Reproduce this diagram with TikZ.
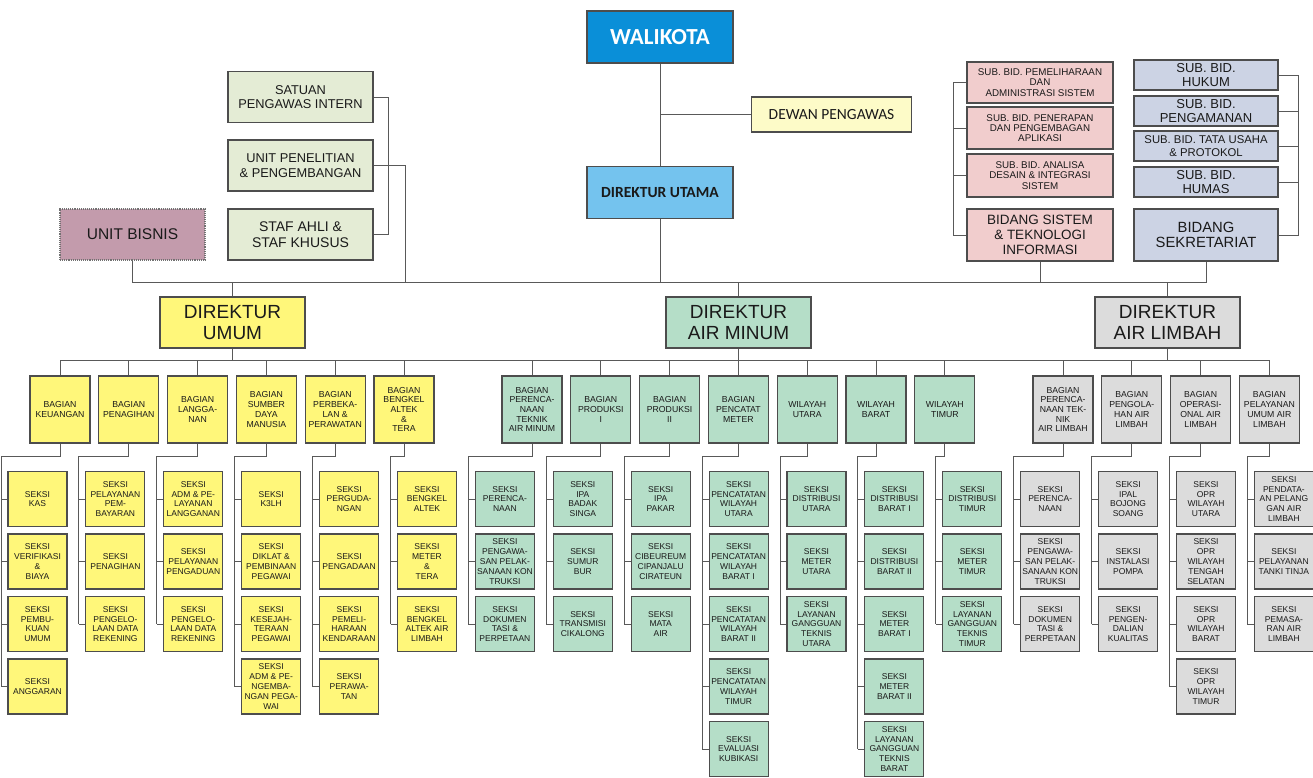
\documentclass[tikz,border=0pt]{standalone}
\usepackage{fontspec}
\setmainfont{Liberation Sans}
\newfontfamily\calib{Carlito}
\definecolor{linec}{HTML}{595959}
\definecolor{bordc}{HTML}{4D4D4D}
\definecolor{txtc}{HTML}{1A1A1A}
\definecolor{wblue}{HTML}{0A8FD8}
\definecolor{dblue}{HTML}{74C3EE}
\definecolor{dewanc}{HTML}{FDFBC8}
\definecolor{staffc}{HTML}{E4ECD5}
\definecolor{ubisc}{HTML}{C39BAC}
\definecolor{yelc}{HTML}{FFF77A}
\definecolor{mintc}{HTML}{B5DEC8}
\definecolor{grayc}{HTML}{DCDCDC}
\definecolor{pinkc}{HTML}{F1CDCD}
\definecolor{lavc}{HTML}{CCD3E4}
\tikzset{
  conn/.style={draw=linec, line width=1pt},
  box/.style={draw=bordc, line width=1.1pt, inner sep=0pt, align=center, text=txtc},
  dirbox/.style={box, minimum width=145pt, minimum height=51pt, font=\fontsize{19pt}{21pt}\selectfont},
  staffbox/.style={box, fill=staffc, minimum width=145pt, minimum height=51pt, font=\fontsize{12.8pt}{14.5pt}\selectfont},
  bagbox/.style={box, minimum width=60pt, minimum height=67pt, font=\fontsize{8.7pt}{9.7pt}\selectfont},
  bagU/.style={bagbox, fill=yelc},
  bagM/.style={bagbox, fill=mintc},
  bagL/.style={bagbox, fill=grayc},
  skbox/.style={box, minimum width=59pt, minimum height=55pt, font=\fontsize{8.5pt}{9.8pt}\selectfont},
  skU/.style={skbox, fill=yelc},
  skM/.style={skbox, fill=mintc},
  skL/.style={skbox, fill=grayc},
  redbox/.style={box, fill=pinkc, minimum width=146pt, font=\fontsize{9.8pt}{10.2pt}\selectfont},
  bluebox/.style={box, fill=lavc, minimum width=144pt, minimum height=30pt, font=\fontsize{13pt}{13.5pt}\selectfont},
}
\newcommand{\sk}[4]{\node[#1] (s#2r#3) at ({77.9*#2+37.5},{499+62.5*(#3-1)}) {#4};}
\newcommand{\brk}[2]{%
  \coordinate (c#1) at ({77.9*#1+1},456);
  \draw[conn] (g#1.south) |- (c#1) -- (c#1 |- s#1r#2.west);
  \foreach \i in {1,...,#2} {\draw[conn] (c#1 |- s#1r\i.west) -- (s#1r\i.west);}
}
\begin{document}
\begin{tikzpicture}[x=1pt,y=-1pt]
\useasboundingbox (0,0) rectangle (1313,777);
\fill[white] (0,0) rectangle (1313,777);

% ---------- top ----------
\node[box, fill=wblue, text=white, minimum width=146pt, minimum height=52pt, font=\calib\bfseries\fontsize{23pt}{25pt}\selectfont] (wali) at (660,37) {WALIKOTA};
\node[box, fill=dewanc, minimum width=160pt, minimum height=35pt, font=\calib\fontsize{15.5pt}{17pt}\selectfont] (dewan) at (831.5,114.5) {DEWAN PENGAWAS};
\node[box, fill=dblue, minimum width=146pt, minimum height=52pt, font=\calib\bfseries\fontsize{15.5pt}{17pt}\selectfont] (dirut) at (660,192.5) {DIREKTUR UTAMA};

\node[staffbox] (spi) at (300.5,97) {SATUAN\\PENGAWAS INTERN};
\node[staffbox] (upp) at (300.5,165.5) {UNIT PENELITIAN\\\& PENGEMBANGAN};
\node[staffbox, font=\fontsize{14pt}{15.5pt}\selectfont] (staf) at (300.5,234.5) {STAF AHLI \&\\STAF KHUSUS};
\node[box, fill=ubisc, draw=bordc!80, densely dotted, minimum width=145pt, minimum height=51pt, font=\fontsize{15.5pt}{17pt}\selectfont] (ubis) at (132.5,234.5) {UNIT BISNIS};

\node[redbox, minimum height=41pt] (r1) at (1040,82.5) {SUB. BID. PEMELIHARAAN\\DAN\\ADMINISTRASI SISTEM};
\node[redbox, minimum height=42pt] (r2) at (1040,128) {SUB. BID. PENERAPAN\\DAN PENGEMBAGAN\\APLIKASI};
\node[redbox, minimum height=43pt] (r3) at (1040,175.5) {SUB. BID. ANALISA\\DESAIN \& INTEGRASI\\SISTEM};
\node[redbox, minimum height=52pt, font=\fontsize{13.5pt}{15pt}\selectfont] (bsti) at (1040,235) {BIDANG SISTEM\\\& TEKNOLOGI\\INFORMASI};

\node[bluebox] (u1) at (1206,75) {SUB. BID.\\HUKUM};
\node[bluebox] (u2) at (1206,111) {SUB. BID.\\PENGAMANAN};
\node[bluebox, font=\fontsize{11.3pt}{13pt}\selectfont] (u3) at (1206,146) {SUB. BID. TATA USAHA\\\& PROTOKOL};
\node[bluebox] (u4) at (1206,182) {SUB. BID.\\HUMAS};
\node[bluebox, minimum height=52pt, font=\fontsize{14.8pt}{15.5pt}\selectfont] (sekr) at (1206,235) {BIDANG\\SEKRETARIAT};

\node[dirbox, fill=yelc] (dU) at (232.5,322.5) {DIREKTUR\\UMUM};
\node[dirbox, fill=mintc] (dM) at (738.5,322.5) {DIREKTUR\\AIR MINUM};
\node[dirbox, fill=grayc] (dL) at (1167.5,322.5) {DIREKTUR\\AIR LIMBAH};

% top connectors
\coordinate (busT) at (0,282);
\coordinate (jS) at (388,0);
\coordinate (jU) at (405,282);
\coordinate (jR) at (953,0);
\coordinate (jB) at (1298,0);
\draw[conn] (wali.south) -- (dirut.north);
\draw[conn] (dewan.west) -- (dewan.west -| wali.south);
\draw[conn] (dirut.south) -- (dirut.south |- busT);
\draw[conn] (ubis.south) -- (ubis.south |- busT) -- (sekr.south |- busT) -- (sekr.south);
\draw[conn] (bsti.south) -- (bsti.south |- busT);
\draw[conn] (dU.north) -- (dU.north |- busT);
\draw[conn] (dM.north) -- (dM.north |- busT);
\draw[conn] (dL.north) -- (dL.north |- busT);
\draw[conn] (upp.east) -| (jU);
\draw[conn] (spi.east) -- (spi.east -| jS) -- (staf.east -| jS) -- (staf.east);
\draw[conn] (r1.west) -- (r1.west -| jR) -- (bsti.west -| jR) -- (bsti.west);
\draw[conn] (r2.west) -- (r2.west -| jR);
\draw[conn] (r3.west) -- (r3.west -| jR);
\draw[conn] (u1.east) -- (u1.east -| jB) -- (sekr.east -| jB) -- (sekr.east);
\draw[conn] (u2.east) -- (u2.east -| jB);
\draw[conn] (u3.east) -- (u3.east -| jB);
\draw[conn] (u4.east) -- (u4.east -| jB);

% ---------- bagian ----------
\node[bagU] (g0) at (60,409.5) {BAGIAN\\KEUANGAN};
\node[bagU] (g1) at (128.8,409.5) {BAGIAN\\PENAGIHAN};
\node[bagU] (g2) at (197.6,409.5) {BAGIAN\\LANGGA-\\NAN};
\node[bagU] (g3) at (266.4,409.5) {BAGIAN\\SUMBER\\DAYA\\MANUSIA};
\node[bagU] (g4) at (335.2,409.5) {BAGIAN\\PERBEKA-\\LAN \&\\PERAWATAN};
\node[bagU] (g5) at (404,409.5) {BAGIAN\\BENGKEL\\ALTEK\\\&\\TERA};
\node[bagM] (g6) at (532,409.5) {BAGIAN\\PERENCA-\\NAAN\\TEKNIK\\AIR MINUM};
\node[bagM] (g7) at (600.8,409.5) {BAGIAN\\PRODUKSI\\I};
\node[bagM] (g8) at (669.6,409.5) {BAGIAN\\PRODUKSI\\II};
\node[bagM] (g9) at (738.4,409.5) {BAGIAN\\PENCATAT\\METER};
\node[bagM] (g10) at (807.2,409.5) {WILAYAH\\UTARA};
\node[bagM] (g11) at (876,409.5) {WILAYAH\\BARAT};
\node[bagM] (g12) at (944.8,409.5) {WILAYAH\\TIMUR};
\node[bagL] (g13) at (1063,409.5) {BAGIAN\\PERENCA-\\NAAN TEK-\\NIK\\AIR LIMBAH};
\node[bagL] (g14) at (1131.8,409.5) {BAGIAN\\PENGOLA-\\HAN AIR\\LIMBAH};
\node[bagL] (g15) at (1200.6,409.5) {BAGIAN\\OPERASI-\\ONAL AIR\\LIMBAH};
\node[bagL] (g16) at (1269.4,409.5) {BAGIAN\\PELAYANAN\\UMUM AIR\\LIMBAH};

\coordinate (busB) at (0,360);
\draw[conn] (g0.north |- busB) -- (g16.north |- busB);
\foreach \k in {0,...,16} {\draw[conn] (g\k.north) -- (g\k.north |- busB);}
\draw[conn] (dU.south) -- (dU.south |- busB);
\draw[conn] (dM.south) -- (dM.south |- busB);
\draw[conn] (dL.south) -- (dL.south |- busB);

% ---------- seksi: direktur umum ----------
\sk{skU}{0}{1}{SEKSI\\KAS}
\sk{skU}{0}{2}{SEKSI\\VERIFIKASI\\\&\\BIAYA}
\sk{skU}{0}{3}{SEKSI\\PEMBU-\\KUAN\\UMUM}
\sk{skU}{0}{4}{SEKSI\\ANGGARAN}
\sk{skU}{1}{1}{SEKSI\\PELAYANAN\\PEM-\\BAYARAN}
\sk{skU}{1}{2}{SEKSI\\PENAGIHAN}
\sk{skU}{1}{3}{SEKSI\\PENGELO-\\LAAN DATA\\REKENING}
\sk{skU}{2}{1}{SEKSI\\ADM \& PE-\\LAYANAN\\LANGGANAN}
\sk{skU}{2}{2}{SEKSI\\PELAYANAN\\PENGADUAN}
\sk{skU}{2}{3}{SEKSI\\PENGELO-\\LAAN DATA\\REKENING}
\sk{skU}{3}{1}{SEKSI\\K3LH}
\sk{skU}{3}{2}{SEKSI\\DIKLAT \&\\PEMBINAAN\\PEGAWAI}
\sk{skU}{3}{3}{SEKSI\\KESEJAH-\\TERAAN\\PEGAWAI}
\sk{skU}{3}{4}{SEKSI\\ADM \& PE-\\NGEMBA-\\NGAN PEGA-\\WAI}
\sk{skU}{4}{1}{SEKSI\\PERGUDA-\\NGAN}
\sk{skU}{4}{2}{SEKSI\\PENGADAAN}
\sk{skU}{4}{3}{SEKSI\\PEMELI-\\HARAAN\\KENDARAAN}
\sk{skU}{4}{4}{SEKSI\\PERAWA-\\TAN}
\sk{skU}{5}{1}{SEKSI\\BENGKEL\\ALTEK}
\sk{skU}{5}{2}{SEKSI\\METER\\\&\\TERA}
\sk{skU}{5}{3}{SEKSI\\BENGKEL\\ALTEK AIR\\LIMBAH}

% ---------- seksi: direktur air minum ----------
\sk{skM}{6}{1}{SEKSI\\PERENCA-\\NAAN}
\sk{skM}{6}{2}{SEKSI\\PENGAWA-\\SAN PELAK-\\SANAAN KON\\TRUKSI}
\sk{skM}{6}{3}{SEKSI\\DOKUMEN\\TASI \&\\PERPETAAN}
\sk{skM}{7}{1}{SEKSI\\IPA\\BADAK\\SINGA}
\sk{skM}{7}{2}{SEKSI\\SUMUR\\BUR}
\sk{skM}{7}{3}{SEKSI\\TRANSMISI\\CIKALONG}
\sk{skM}{8}{1}{SEKSI\\IPA\\PAKAR}
\sk{skM}{8}{2}{SEKSI\\CIBEUREUM\\CIPANJALU\\CIRATEUN}
\sk{skM}{8}{3}{SEKSI\\MATA\\AIR}
\sk{skM}{9}{1}{SEKSI\\PENCATATAN\\WILAYAH\\UTARA}
\sk{skM}{9}{2}{SEKSI\\PENCATATAN\\WILAYAH\\BARAT I}
\sk{skM}{9}{3}{SEKSI\\PENCATATAN\\WILAYAH\\BARAT II}
\sk{skM}{9}{4}{SEKSI\\PENCATATAN\\WILAYAH\\TIMUR}
\sk{skM}{9}{5}{SEKSI\\EVALUASI\\KUBIKASI}
\sk{skM}{10}{1}{SEKSI\\DISTRIBUSI\\UTARA}
\sk{skM}{10}{2}{SEKSI\\METER\\UTARA}
\sk{skM}{10}{3}{SEKSI\\LAYANAN\\GANGGUAN\\TEKNIS\\UTARA}
\sk{skM}{11}{1}{SEKSI\\DISTRIBUSI\\BARAT I}
\sk{skM}{11}{2}{SEKSI\\DISTRIBUSI\\BARAT II}
\sk{skM}{11}{3}{SEKSI\\METER\\BARAT I}
\sk{skM}{11}{4}{SEKSI\\METER\\BARAT II}
\sk{skM}{11}{5}{SEKSI\\LAYANAN\\GANGGUAN\\TEKNIS\\BARAT}
\sk{skM}{12}{1}{SEKSI\\DISTRIBUSI\\TIMUR}
\sk{skM}{12}{2}{SEKSI\\METER\\TIMUR}
\sk{skM}{12}{3}{SEKSI\\LAYANAN\\GANGGUAN\\TEKNIS\\TIMUR}

% ---------- seksi: direktur air limbah ----------
\sk{skL}{13}{1}{SEKSI\\PERENCA-\\NAAN}
\sk{skL}{13}{2}{SEKSI\\PENGAWA-\\SAN PELAK-\\SANAAN KON\\TRUKSI}
\sk{skL}{13}{3}{SEKSI\\DOKUMEN\\TASI \&\\PERPETAAN}
\sk{skL}{14}{1}{SEKSI\\IPAL\\BOJONG\\SOANG}
\sk{skL}{14}{2}{SEKSI\\INSTALASI\\POMPA}
\sk{skL}{14}{3}{SEKSI\\PENGEN-\\DALIAN\\KUALITAS}
\sk{skL}{15}{1}{SEKSI\\OPR\\WILAYAH\\UTARA}
\sk{skL}{15}{2}{SEKSI\\OPR\\WILAYAH\\TENGAH\\SELATAN}
\sk{skL}{15}{3}{SEKSI\\OPR\\WILAYAH\\BARAT}
\sk{skL}{15}{4}{SEKSI\\OPR\\WILAYAH\\TIMUR}
\sk{skL}{16}{1}{SEKSI\\PENDATA-\\AN PELANG\\GAN AIR\\LIMBAH}
\sk{skL}{16}{2}{SEKSI\\PELAYANAN\\TANKI TINJA}
\sk{skL}{16}{3}{SEKSI\\PEMASA-\\RAN AIR\\LIMBAH}

% ---------- seksi brackets ----------
\brk{0}{4}
\brk{1}{3}
\brk{2}{3}
\brk{3}{4}
\brk{4}{4}
\brk{5}{3}
\brk{6}{3}
\brk{7}{3}
\brk{8}{3}
\brk{9}{5}
\brk{10}{3}
\brk{11}{5}
\brk{12}{3}
\brk{13}{3}
\brk{14}{3}
\brk{15}{4}
\brk{16}{3}
\end{tikzpicture}
\end{document}
